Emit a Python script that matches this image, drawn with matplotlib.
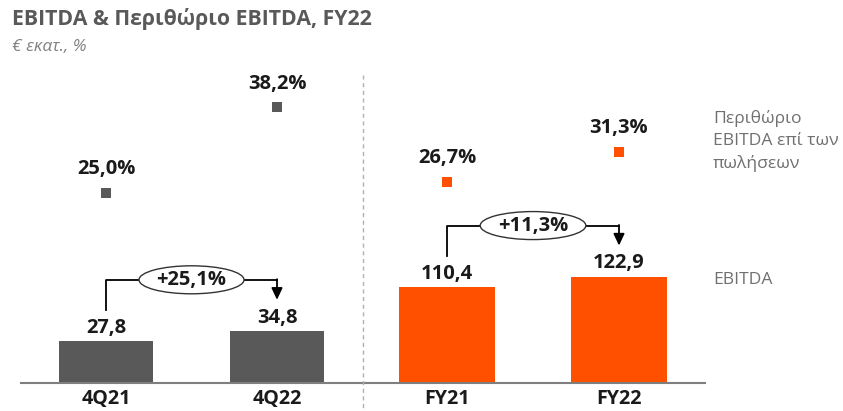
import matplotlib
matplotlib.use("Agg")
import matplotlib.pyplot as plt
from matplotlib.patches import Ellipse
from matplotlib.lines import Line2D

plt.rcParams['font.family'] = ['Open Sans', 'DejaVu Sans']

# ---- data ----
quarters = ['4Q21', '4Q22']
q_ebitda = [27.8, 34.8]
q_margin = [25.0, 38.2]
q_growth = '+25,1%'

years = ['FY21', 'FY22']
y_ebitda = [110.4, 122.9]
y_margin = [26.7, 31.3]
y_growth = '+11,3%'

GRAY = '#595959'
ORANGE = '#FF5000'
TXT = '#1a1a1a'

W, H = 843, 411
fig = plt.figure(figsize=(W / 100, H / 100), dpi=100)

# axes geometry in pixels (baseline at y=383 from top)
base_px = 383
top_px = 63
ax_h = base_px - top_px


def make_axes(x0, x1):
    return fig.add_axes([x0 / W, (H - base_px) / H, (x1 - x0) / W, ax_h / H])


def fmt(v, pct=False):
    s = f"{v:.1f}".replace('.', ',')
    return s + '%' if pct else s


def panel(ax, cats, vals, margins, growth, color, ytop):
    ax.set_xlim(-0.5, 1.5)
    ax.set_ylim(0, ytop)
    xs = range(len(cats))
    ax.bar(xs, vals, width=0.555, color=color, zorder=2)
    for s in ['top', 'right', 'left']:
        ax.spines[s].set_visible(False)
    ax.spines['bottom'].set_color('#7f7f7f')
    ax.spines['bottom'].set_linewidth(1.5)
    ax.set_yticks([])
    ax.set_xticks(list(xs))
    ax.set_xticklabels(cats, fontsize=14.2, fontweight='bold', color=TXT)
    ax.tick_params(axis='x', length=0, pad=4)
    ax.patch.set_alpha(0)

    per_px = ytop / ax_h  # data units per pixel
    for x, v in zip(xs, vals):
        ax.annotate(fmt(v), (x, v), xytext=(0, 9.5), textcoords='offset points',
                    ha='center', va='center', fontsize=14.5, fontweight='bold', color=TXT)

    # growth arrow
    y0 = vals[0] + 31 * per_px
    y1 = vals[1] + 31 * per_px
    yl = max(vals) + 51 * per_px
    ax.plot([0, 0, 1], [y0, yl, yl], color='black', lw=1.3, zorder=3)
    ax.annotate('', xy=(1, y1), xytext=(1, yl + 0.6 * per_px),
                arrowprops=dict(arrowstyle='-|>,head_length=0.7,head_width=0.33',
                                color='black', lw=1.3,
                                mutation_scale=10, shrinkA=0, shrinkB=0), zorder=3)
    ell = Ellipse((0.5, yl), width=105 / 171, height=28 * per_px,
                  facecolor='white', edgecolor='#333333', lw=1, zorder=4)
    ax.add_patch(ell)
    ax.text(0.5, yl, growth, ha='center', va='center', fontsize=14.5,
            fontweight='bold', color=TXT, zorder=5)

    # margin markers on twin axis (shared scale across both panels)
    tw = ax.twinx()
    tw.set_ylim(-4.23, 45.0)
    tw.axis('off')
    tw.scatter(list(xs), margins, marker='s', s=60, color=color, linewidths=0, zorder=3)
    for x, m in zip(xs, margins):
        tw.annotate(fmt(m, True), (x, m), xytext=(0, 17), textcoords='offset points',
                    ha='center', va='center', fontsize=14.5, fontweight='bold', color=TXT)


axL = make_axes(20.5, 362.5)
axR = make_axes(361, 705)
panel(axL, quarters, q_ebitda, q_margin, q_growth, GRAY, ax_h / 1.5)
panel(axR, years, y_ebitda, y_margin, y_growth, ORANGE, ax_h / 0.866)

# dashed divider
fig.add_artist(Line2D([363 / W, 363 / W], [1 - 75 / H, 1 - 408 / H], transform=fig.transFigure,
                      color='#b0b0b0', lw=1, ls=(0, (3, 2.5))))

# titles
fig.text(12 / W, 1 - 19 / H, 'EBITDA & Περιθώριο EBITDA, FY22', fontsize=15.3,
         fontweight='bold', color=GRAY, va='center', ha='left')
fig.text(12 / W, 1 - 47 / H, '€ εκατ., %', fontsize=12.5, style='italic',
         color='#808080', va='center', ha='left')

# series labels
fig.text(713 / W, 1 - 141 / H, 'Περιθώριο\nEBITDA επί των\nπωλήσεων', fontsize=12.6,
         color='#707070', va='center', ha='left', linespacing=1.5)
fig.text(713 / W, 1 - 280 / H, 'EBITDA', fontsize=12.6, color='#707070',
         va='center', ha='left')

fig.savefig('out.png', dpi=100)
